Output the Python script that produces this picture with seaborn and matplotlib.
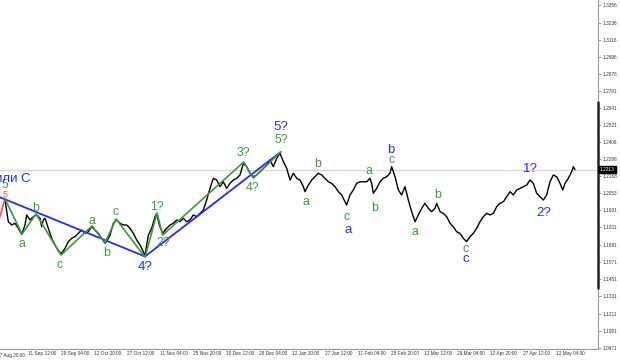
import matplotlib
matplotlib.use("Agg")
import matplotlib.pyplot as plt
import pandas as pd
import seaborn as sns

# ---- price series (bar number, close) ----
bars = [15, 25, 35, 45, 55, 65, 75, 80, 90, 100,
        110, 120, 125, 130, 135, 145, 155, 165, 175, 185,
        195, 205, 215, 225, 235, 245, 255, 265, 275, 285,
        295, 305, 315, 320, 330, 340, 350, 360, 370, 380,
        390, 400, 410, 420, 430, 435, 440, 445, 455, 465,
        470, 478, 488, 500, 510, 520, 530, 540, 550, 560,
        570, 580, 590, 600, 610, 620, 630, 640, 650, 660,
        670, 680, 690, 700, 710, 720, 730, 740, 750, 760,
        770, 780, 790, 800, 810, 820, 830, 840, 850, 860,
        870, 880, 890, 900, 910, 915, 925, 935, 945, 955,
        965, 975, 985, 995, 1005, 1015, 1025, 1035, 1040, 1050,
        1060, 1070, 1080, 1090, 1100, 1110, 1115, 1120, 1130, 1140,
        1150, 1160, 1170, 1175, 1185, 1195, 1205, 1215, 1225, 1235,
        1245, 1255, 1265, 1275, 1285, 1295, 1305, 1310, 1320, 1330,
        1340, 1350, 1360, 1370, 1380, 1390, 1400, 1410, 1420, 1430,
        1440, 1450, 1460, 1470, 1480, 1490, 1500, 1510, 1520, 1530,
        1540, 1550, 1560, 1570, 1580, 1590, 1600, 1610, 1620, 1630,
        1640, 1650, 1660, 1670, 1680, 1688, 1695, 1705, 1715, 1720,
        1725]
close = [1.2001, 1.1850, 1.1827, 1.1839, 1.1804, 1.1762, 1.1827, 1.1897, 1.1862, 1.1885,
         1.1897, 1.1874, 1.1815, 1.1862, 1.1874, 1.1804, 1.1734, 1.1688, 1.1646, 1.1630,
         1.1665, 1.1711, 1.1734, 1.1746, 1.1769, 1.1792, 1.1769, 1.1780, 1.1815, 1.1792,
         1.1769, 1.1734, 1.1700, 1.1711, 1.1757, 1.1839, 1.1862, 1.1839, 1.1827, 1.1827,
         1.1804, 1.1769, 1.1723, 1.1688, 1.1641, 1.1613, 1.1688, 1.1757, 1.1804, 1.1885,
         1.1908, 1.1827, 1.1769, 1.1804, 1.1827, 1.1839, 1.1862, 1.1850, 1.1874, 1.1850,
         1.1862, 1.1897, 1.1885, 1.1908, 1.1931, 1.2001, 1.2082, 1.2152, 1.2140, 1.2094,
         1.2128, 1.2082, 1.2117, 1.2140, 1.2152, 1.2175, 1.2256, 1.2233, 1.2187, 1.2163,
         1.2175, 1.2198, 1.2222, 1.2245, 1.2279, 1.2233, 1.2291, 1.2326, 1.2268, 1.2222,
         1.2140, 1.2187, 1.2152, 1.2140, 1.2094, 1.2059, 1.2105, 1.2140, 1.2163, 1.2187,
         1.2175, 1.2152, 1.2128, 1.2117, 1.2094, 1.2059, 1.2036, 1.1989, 1.1966, 1.2036,
         1.2071, 1.2117, 1.2128, 1.2128, 1.2128, 1.2152, 1.2117, 1.2048, 1.2082, 1.2128,
         1.2152, 1.2163, 1.2187, 1.2233, 1.2163, 1.2071, 1.2036, 1.2094, 1.2001, 1.1920,
         1.1850, 1.1897, 1.1943, 1.1978, 1.1943, 1.1920, 1.1943, 1.1978, 1.1920, 1.1908,
         1.1885, 1.1839, 1.1815, 1.1780, 1.1769, 1.1734, 1.1711, 1.1746, 1.1769, 1.1804,
         1.1850, 1.1885, 1.1908, 1.1897, 1.1908, 1.1954, 1.1978, 1.1989, 1.2024, 1.2059,
         1.2036, 1.2071, 1.2082, 1.2094, 1.2105, 1.2140, 1.2117, 1.2048, 1.2024, 1.2001,
         1.2036, 1.2128, 1.2175, 1.2163, 1.2117, 1.2071, 1.2117, 1.2152, 1.2198, 1.2233,
         1.2213]
last_price = 1.2213

# ---- wave overlays ----
green_bars = [15, 66, 108, 183, 276, 315, 348, 435, 471, 488, 731, 760, 842]
green_vals = [1.2008, 1.1764, 1.1904, 1.1618, 1.1820, 1.1702, 1.1869, 1.1604, 1.1911, 1.1757, 1.2265, 1.2154, 1.2335]
blue_bars = [0, 435, 842]
blue_vals = [1.2020, 1.1608, 1.2335]
red_bars = [0, 15]
red_vals = [1.1885, 1.2013]

green_labels = ["5", "a", "b", "c", "a", "b", "c", "1?", "2?", "3?", "4?", "5?",
                "a", "b", "c", "a", "b", "c", "a", "b", "c"]
green_lbl_bars = [15, 66, 108, 180, 276, 321, 348, 471, 489, 729, 759, 843,
                  918, 954, 1040, 1107, 1123, 1175, 1245, 1312, 1398]
green_lbl_vals = [1.2105, 1.1695, 1.1945, 1.1549, 1.1855, 1.1632, 1.1917, 1.1952, 1.1702, 1.2328, 1.2085, 1.2419,
                  1.1989, 1.2252, 1.1883, 1.2205, 1.1943, 1.2279, 1.1780, 1.2036, 1.1660]
blue_labels = ["4?", "5?", "a", "b", "c", "1?", "2?"]
blue_lbl_bars = [435, 843, 1043, 1173, 1397, 1590, 1630]
blue_lbl_vals = [1.1535, 1.2509, 1.1792, 1.2349, 1.1590, 1.2215, 1.1908]

# ---- axes ----
y_ticks = [1.3356, 1.3236, 1.3116, 1.2996, 1.2876, 1.2761, 1.2641, 1.2521, 1.2406, 1.2286,
           1.2168, 1.2053, 1.1931, 1.1811, 1.1691, 1.1571, 1.1451, 1.1331, 1.1211, 1.1091, 1.0971]
x_tick_pos = [84, 183, 282, 381, 480, 579, 678, 777, 876, 975, 1074, 1173, 1272, 1371, 1470, 1569, 1668]
x_tick_labels = ["11 Sep 12:00", "28 Sep 04:00", "12 Oct 20:00", "27 Oct 12:00", "11 Nov 04:00",
                 "25 Nov 20:00", "10 Dec 12:00", "28 Dec 04:00", "12 Jan 20:00", "27 Jan 12:00",
                 "11 Feb 04:00", "25 Feb 20:00", "12 Mar 12:00", "29 Mar 04:00", "12 Apr 20:00",
                 "27 Apr 12:00", "12 May 04:00"]
first_label = "27 Aug 20:00"
first_label_pos = -8

sns.set_style("white")
plt.rcParams["font.family"] = ["Liberation Sans", "DejaVu Sans"]

GREEN = "#3a9a3a"
BLUE = "#2828ff"
RED = "#ff4a4a"

fig = plt.figure(figsize=(6.2, 3.61), dpi=100)
ax = fig.add_axes([0, 12 / 361, 598 / 620, 349 / 361])
ax.set_xlim(0, 1794)
ax.set_ylim(1.0964, 1.3393)

ax.axhline(last_price, color="#d8d8d8", lw=1.0, zorder=0)

df = pd.DataFrame({"bar": bars, "close": close})
sns.lineplot(data=df, x="bar", y="close", ax=ax, color="black", lw=1.0,
             estimator=None, sort=False, zorder=2)

ax.plot(red_bars, red_vals, color=RED, lw=1.2, zorder=3)
ax.plot(blue_bars, blue_vals, color=BLUE, lw=1.3, zorder=3)
ax.plot(green_bars, green_vals, color=GREEN, lw=1.2, zorder=4)

for t, xb, yv in zip(green_labels, green_lbl_bars, green_lbl_vals):
    ax.text(xb, yv, t, color=GREEN, fontsize=8.8, ha="center", va="center", zorder=5)
for t, xb, yv in zip(blue_labels, blue_lbl_bars, blue_lbl_vals):
    ax.text(xb, yv, t, color=BLUE, fontsize=9.5, ha="center", va="center", zorder=5)
ax.text(15, 1.2040, "5", color=RED, fontsize=6.5, ha="center", va="center", zorder=5)
ax.text(-14, 1.2148, "или C", color=BLUE, fontsize=9.5, ha="left", va="center", zorder=5)

# spines
for s in ["top", "left"]:
    ax.spines[s].set_visible(False)
ax.spines["bottom"].set_color("#9a9a9a")
ax.spines["bottom"].set_linewidth(0.8)
ax.spines["right"].set_color("#9a9a9a")
ax.spines["right"].set_linewidth(0.8)
ax.axvline(1794, ymin=0.175, ymax=0.708, color="#222222", lw=1.8, clip_on=False, zorder=6)

ax.yaxis.tick_right()
ax.set_yticks(y_ticks)
ax.set_yticklabels([f"{v:.4f}" for v in y_ticks])
ax.tick_params(axis="y", length=2.5, width=0.5, color="#777777", labelsize=3.4,
               labelcolor="#333333", pad=1)
ax.set_xticks(x_tick_pos)
ax.set_xticklabels(x_tick_labels, ha="left")
ax.tick_params(axis="x", direction="in", length=3, width=0.5, color="#aaaaaa",
               labelsize=3.4, labelcolor="#333333", pad=1.5)
ax.text(first_label_pos, -0.012, first_label, transform=ax.get_xaxis_transform(),
        fontsize=3.4, color="#333333", ha="left", va="top", clip_on=False)
ax.set_xlabel("")
ax.set_ylabel("")

ax.text(1.003, last_price, f"{last_price:.4f}", transform=ax.get_yaxis_transform(),
        fontsize=3.4, color="white", ha="left", va="center", zorder=7,
        bbox=dict(boxstyle="square,pad=0.25", fc="black", ec="black"))

fig.savefig("out.png", dpi=100)
